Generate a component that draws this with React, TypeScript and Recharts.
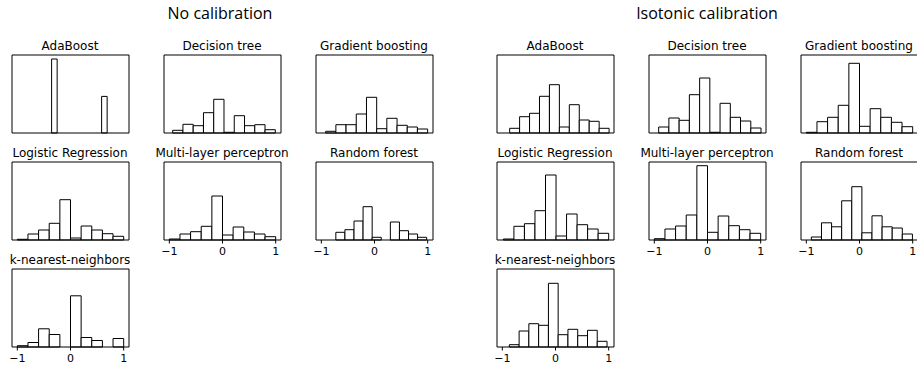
import React from 'react';
import { ComposedChart, XAxis, YAxis, ReferenceArea } from 'recharts';

// ---------- text ----------
const GROUP_TITLES = ['No calibration', 'Isotonic calibration'];
const CLASSIFIERS = [
  'AdaBoost',
  'Decision tree',
  'Gradient boosting',
  'Logistic Regression',
  'Multi-layer perceptron',
  'Random forest',
  'k-nearest-neighbors',
];
const X_TICKS = [-1, 0, 1];
const X_DOMAIN: [number, number] = [-1.1, 1.1];
const Y_MAX = 78; // shared y-limit per group (count units)

// ---------- No calibration: bin edges & counts ----------
const noCalAdaBoostEdges = [-0.355, -0.251, -0.146, -0.042, 0.063, 0.167, 0.272, 0.376, 0.48, 0.585, 0.689];
const noCalAdaBoostCounts = [74, 0, 0, 0, 0, 0, 0, 0, 0, 36.6];

const noCalTreeEdges = [-0.937, -0.744, -0.551, -0.358, -0.165, 0.028, 0.221, 0.414, 0.607, 0.8, 0.993];
const noCalTreeCounts = [2.7, 8.7, 7.3, 20.3, 33.7, 0.7, 17.3, 7.3, 8.3, 3.3];

const noCalGbEdges = [-0.918, -0.726, -0.535, -0.343, -0.151, 0.041, 0.232, 0.424, 0.616, 0.807, 0.999];
const noCalGbCounts = [1.7, 8.3, 8.3, 19, 35.7, 4.3, 14.7, 7.7, 6, 4];

const noCalLrEdges = [-1, -0.8, -0.6, -0.4, -0.2, 0, 0.2, 0.4, 0.6, 0.8, 1];
const noCalLrCounts = [0.7, 6, 10, 16.7, 40.3, 2, 14, 10, 6.3, 3.7];

const noCalMlpEdges = [-1, -0.8, -0.6, -0.4, -0.2, 0, 0.2, 0.4, 0.6, 0.8, 1];
const noCalMlpCounts = [1, 6, 8.3, 13.7, 44, 5, 13, 8, 6, 3.3];

const noCalRfEdges = [-0.727, -0.556, -0.385, -0.215, -0.044, 0.127, 0.298, 0.469, 0.64, 0.81, 0.981];
const noCalRfCounts = [7.7, 10.3, 19, 33.3, 2.7, 0, 18, 9.3, 6, 2.7];

const noCalKnnEdges = [-1, -0.8, -0.6, -0.4, -0.2, 0, 0.2, 0.4, 0.6, 0.8, 1];
const noCalKnnCounts = [1.3, 4.5, 18.2, 12.5, 0, 51.2, 9.5, 6.5, 0, 8.5];

// ---------- Isotonic calibration: bin edges & counts ----------
const isoAdaBoostEdges = [-0.862, -0.675, -0.488, -0.301, -0.114, 0.073, 0.26, 0.447, 0.634, 0.821, 1.008];
const isoAdaBoostCounts = [4.7, 16.3, 19.7, 36.7, 48.3, 6, 28.3, 13, 11.7, 4.7];

const isoTreeEdges = [-0.918, -0.726, -0.533, -0.341, -0.148, 0.044, 0.236, 0.429, 0.621, 0.814, 1.006];
const isoTreeCounts = [6, 15, 12.7, 38.3, 55, 0.7, 29.7, 15.7, 12, 5];

const isoGbEdges = [-1, -0.8, -0.6, -0.4, -0.2, 0, 0.2, 0.4, 0.6, 0.8, 1];
const isoGbCounts = [0.7, 11.3, 15.7, 27.7, 69.7, 6.7, 24.3, 15.7, 10.7, 6.3];

const isoLrEdges = [-0.98, -0.782, -0.584, -0.386, -0.188, 0.01, 0.208, 0.406, 0.604, 0.802, 1.0];
const isoLrCounts = [1, 13.7, 16.3, 29.3, 65, 4, 26, 15.3, 11, 6.7];

const isoMlpEdges = [-1, -0.8, -0.6, -0.4, -0.2, 0, 0.2, 0.4, 0.6, 0.8, 1];
const isoMlpCounts = [1.3, 11, 14, 25, 74.3, 7.7, 24, 14.3, 10.3, 6.7];

const isoRfEdges = [-0.905, -0.715, -0.525, -0.335, -0.145, 0.045, 0.235, 0.425, 0.615, 0.805, 0.995];
const isoRfCounts = [3, 17.2, 13.2, 39.2, 53.3, 7.2, 24.2, 13.2, 12, 6];

const isoKnnEdges = [-0.868, -0.684, -0.501, -0.317, -0.133, 0.05, 0.234, 0.418, 0.602, 0.785, 0.969];
const isoKnnCounts = [2.3, 16, 23.3, 21.7, 63.7, 12.3, 17.7, 11.3, 16.7, 5.7];

const GROUPS = [
  [
    [noCalAdaBoostEdges, noCalAdaBoostCounts],
    [noCalTreeEdges, noCalTreeCounts],
    [noCalGbEdges, noCalGbCounts],
    [noCalLrEdges, noCalLrCounts],
    [noCalMlpEdges, noCalMlpCounts],
    [noCalRfEdges, noCalRfCounts],
    [noCalKnnEdges, noCalKnnCounts],
  ],
  [
    [isoAdaBoostEdges, isoAdaBoostCounts],
    [isoTreeEdges, isoTreeCounts],
    [isoGbEdges, isoGbCounts],
    [isoLrEdges, isoLrCounts],
    [isoMlpEdges, isoMlpCounts],
    [isoRfEdges, isoRfCounts],
    [isoKnnEdges, isoKnnCounts],
  ],
];

// ---------- layout ----------
const BOX_W = 117;
const BOX_H = 78;
const M = 4;
const AXIS_H = 22;
const GROUP_X = [11.5, 496.5];
const COL_STEP = 152;
const ROW_TOP = [54.5, 161.5, 268.5];
const GROUP_TITLE_X = [220, 707];

const FONT = '"DejaVu Sans", sans-serif';

const fmt = (v: number) => String(v).replace('-', '\u2212');

function Histogram({ edges, counts, showLabels }: { edges: number[]; counts: number[]; showLabels: boolean }) {
  const bins = counts.map((c, i) => ({ x0: edges[i], x1: edges[i + 1], count: c }));
  return (
    <ComposedChart
      width={BOX_W + 2 * M}
      height={BOX_H + M + AXIS_H}
      data={bins}
      margin={{ top: M, right: M, bottom: 0, left: M }}
    >
      <XAxis
        type="number"
        dataKey="x0"
        domain={X_DOMAIN}
        allowDataOverflow
        ticks={X_TICKS}
        interval={0}
        axisLine={false}
        tickLine={{ stroke: '#000', strokeWidth: 1 }}
        tickSize={3.5}
        tickMargin={4}
        height={AXIS_H}
        tick={showLabels ? { fill: '#000', fontSize: 11, fontFamily: FONT } : false}
        tickFormatter={fmt}
      />
      <YAxis type="number" domain={[0, Y_MAX]} hide allowDataOverflow />
      {bins
        .filter((b) => b.count > 0)
        .map((b, i) => (
          <ReferenceArea
            key={i}
            x1={b.x0}
            x2={b.x1}
            y1={0}
            y2={b.count}
            fill="#ffffff"
            fillOpacity={1}
            stroke="#000"
            strokeWidth={1}
            ifOverflow="visible"
          />
        ))}
      <ReferenceArea
        x1={X_DOMAIN[0]}
        x2={X_DOMAIN[1]}
        y1={0}
        y2={Y_MAX}
        fill="none"
        fillOpacity={0}
        stroke="#000"
        strokeWidth={1}
        ifOverflow="visible"
      />
    </ComposedChart>
  );
}

export default function App() {
  const panels: React.ReactNode[] = [];
  const titles: React.ReactNode[] = [];
  GROUPS.forEach((group, g) => {
    group.forEach(([edges, counts], k) => {
      const row = Math.floor(k / 3);
      const col = k % 3;
      const boxLeft = GROUP_X[g] + col * COL_STEP;
      const boxTop = ROW_TOP[row];
      const showLabels = k >= 4;
      panels.push(
        <div
          key={`p-${g}-${k}`}
          style={{ position: 'absolute', left: boxLeft - M, top: boxTop - M }}
        >
          <Histogram edges={edges} counts={counts} showLabels={showLabels} />
        </div>
      );
      titles.push(
        <text
          key={`t-${g}-${k}`}
          x={boxLeft + BOX_W / 2}
          y={boxTop - 5}
          textAnchor="middle"
          fontFamily={FONT}
          fontSize={12}
          fill="#000"
        >
          {CLASSIFIERS[k]}
        </text>
      );
    });
    titles.push(
      <text
        key={`g-${g}`}
        x={GROUP_TITLE_X[g]}
        y={19}
        textAnchor="middle"
        fontFamily='"Open Sans", sans-serif'
        fontSize={16}
        fill="#000"
      >
        {GROUP_TITLES[g]}
      </text>
    );
  });

  return (
    <div
      style={{
        position: 'absolute',
        left: 0,
        top: 0,
        width: 917,
        height: 365,
        overflow: 'hidden',
        background: '#fff',
      }}
    >
      {panels}
      <svg
        width={917}
        height={365}
        style={{ position: 'absolute', left: 0, top: 0, pointerEvents: 'none' }}
      >
        {titles}
      </svg>
    </div>
  );
}
